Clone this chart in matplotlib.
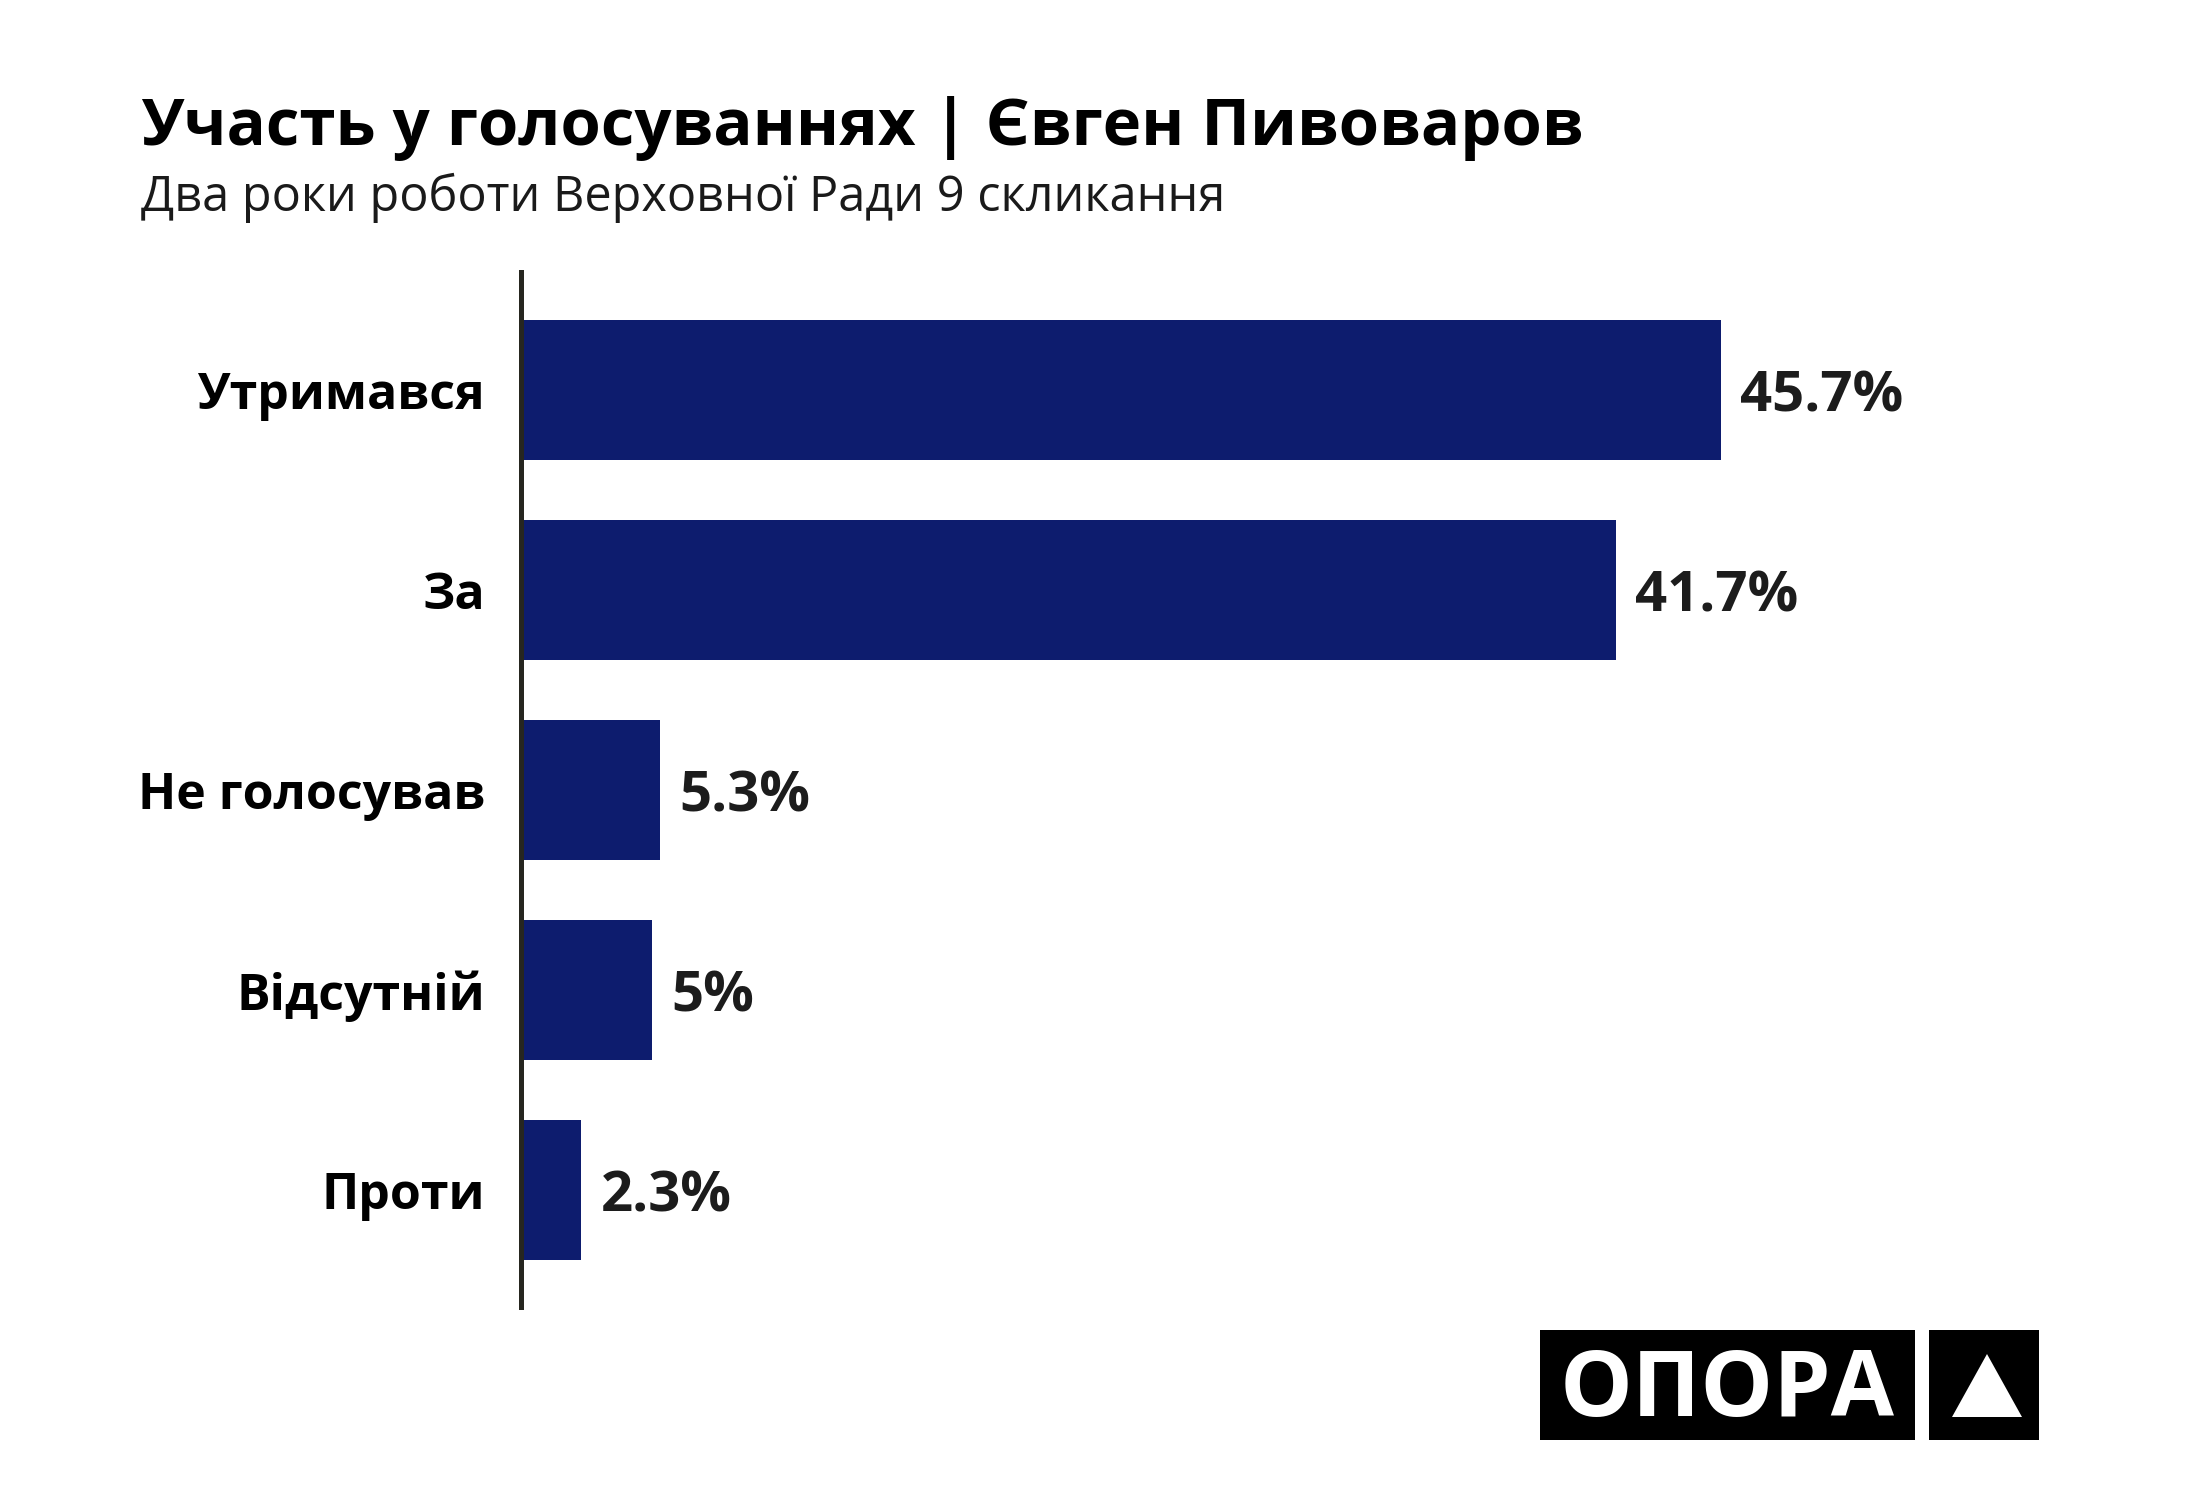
import matplotlib
matplotlib.use("Agg")
import matplotlib.pyplot as plt
from matplotlib.patches import Rectangle, Polygon

categories = ["Утримався", "За", "Не голосував", "Відсутній", "Проти"]
values = [45.7, 41.7, 5.3, 5, 2.3]
value_labels = ["45.7%", "41.7%", "5.3%", "5%", "2.3%"]
title = "Участь у голосуваннях | Євген Пивоваров"
subtitle = "Два роки роботи Верховної Ради 9 скликання"
logo_text = "ОПОРА"

W, H = 2200, 1500
DPI = 100
FONT = ["Open Sans", "DejaVu Sans"]
plt.rcParams["font.family"] = FONT

fig = plt.figure(figsize=(W / DPI, H / DPI), dpi=DPI, facecolor="white")

def fx(px):
    return px / W

def fy(py):
    return 1 - py / H

ax_left, ax_right, ax_top, ax_bottom = 521, 2100, 272, 1307
ax = fig.add_axes([fx(ax_left), fy(ax_bottom), fx(ax_right) - fx(ax_left), fy(ax_top) - fy(ax_bottom)])

bar_color = "#0d1c6e"
y = list(range(len(categories)))
ax.barh(y, values, height=0.7, color=bar_color, zorder=2)
ax.set_ylim(len(categories) - 1 + 0.585, -0.59)
ax.set_xlim(0, (ax_right - ax_left) / 26.25)

for i, (v, lab) in enumerate(zip(values, value_labels)):
    ax.annotate(lab, xy=(v, i), xytext=(13.7, 0), textcoords="offset points",
                ha="left", va="center_baseline", fontsize=40.5, fontweight="bold",
                color="#1c1c1c")

ax.set_yticks(y)
ax.set_yticklabels(categories, fontsize=36, fontweight="bold", color="black")
ax.tick_params(axis="y", length=0, pad=26)
ax.set_xticks([])
for s in ["top", "right", "bottom"]:
    ax.spines[s].set_visible(False)
ax.spines["left"].set_color("#26261f")
ax.spines["left"].set_linewidth(3.6)
ax.spines["left"].set_zorder(3)

fig.text(fx(141), fy(145), title, fontsize=47, fontweight="bold", color="black",
         ha="left", va="baseline")
fig.text(fx(141), fy(211), subtitle, fontsize=35, color="#1a1a1a",
         ha="left", va="baseline")

# logo
fig.patches.append(Rectangle((fx(1540), fy(1440)), fx(1915) - fx(1540), fy(1330) - fy(1440),
                             transform=fig.transFigure, facecolor="black", edgecolor="none"))
fig.patches.append(Rectangle((fx(1929), fy(1440)), fx(2039) - fx(1929), fy(1330) - fy(1440),
                             transform=fig.transFigure, facecolor="black", edgecolor="none"))
fig.patches.append(Polygon([(fx(1952), fy(1417)), (fx(2022), fy(1417)), (fx(1987), fy(1354))],
                           closed=True, transform=fig.transFigure, facecolor="white", edgecolor="none"))
fig.text(fx(1727), fy(1416), logo_text, fontsize=66, fontweight="bold", color="white",
         ha="center", va="baseline")

fig.savefig("out.png", dpi=DPI, facecolor="white")
